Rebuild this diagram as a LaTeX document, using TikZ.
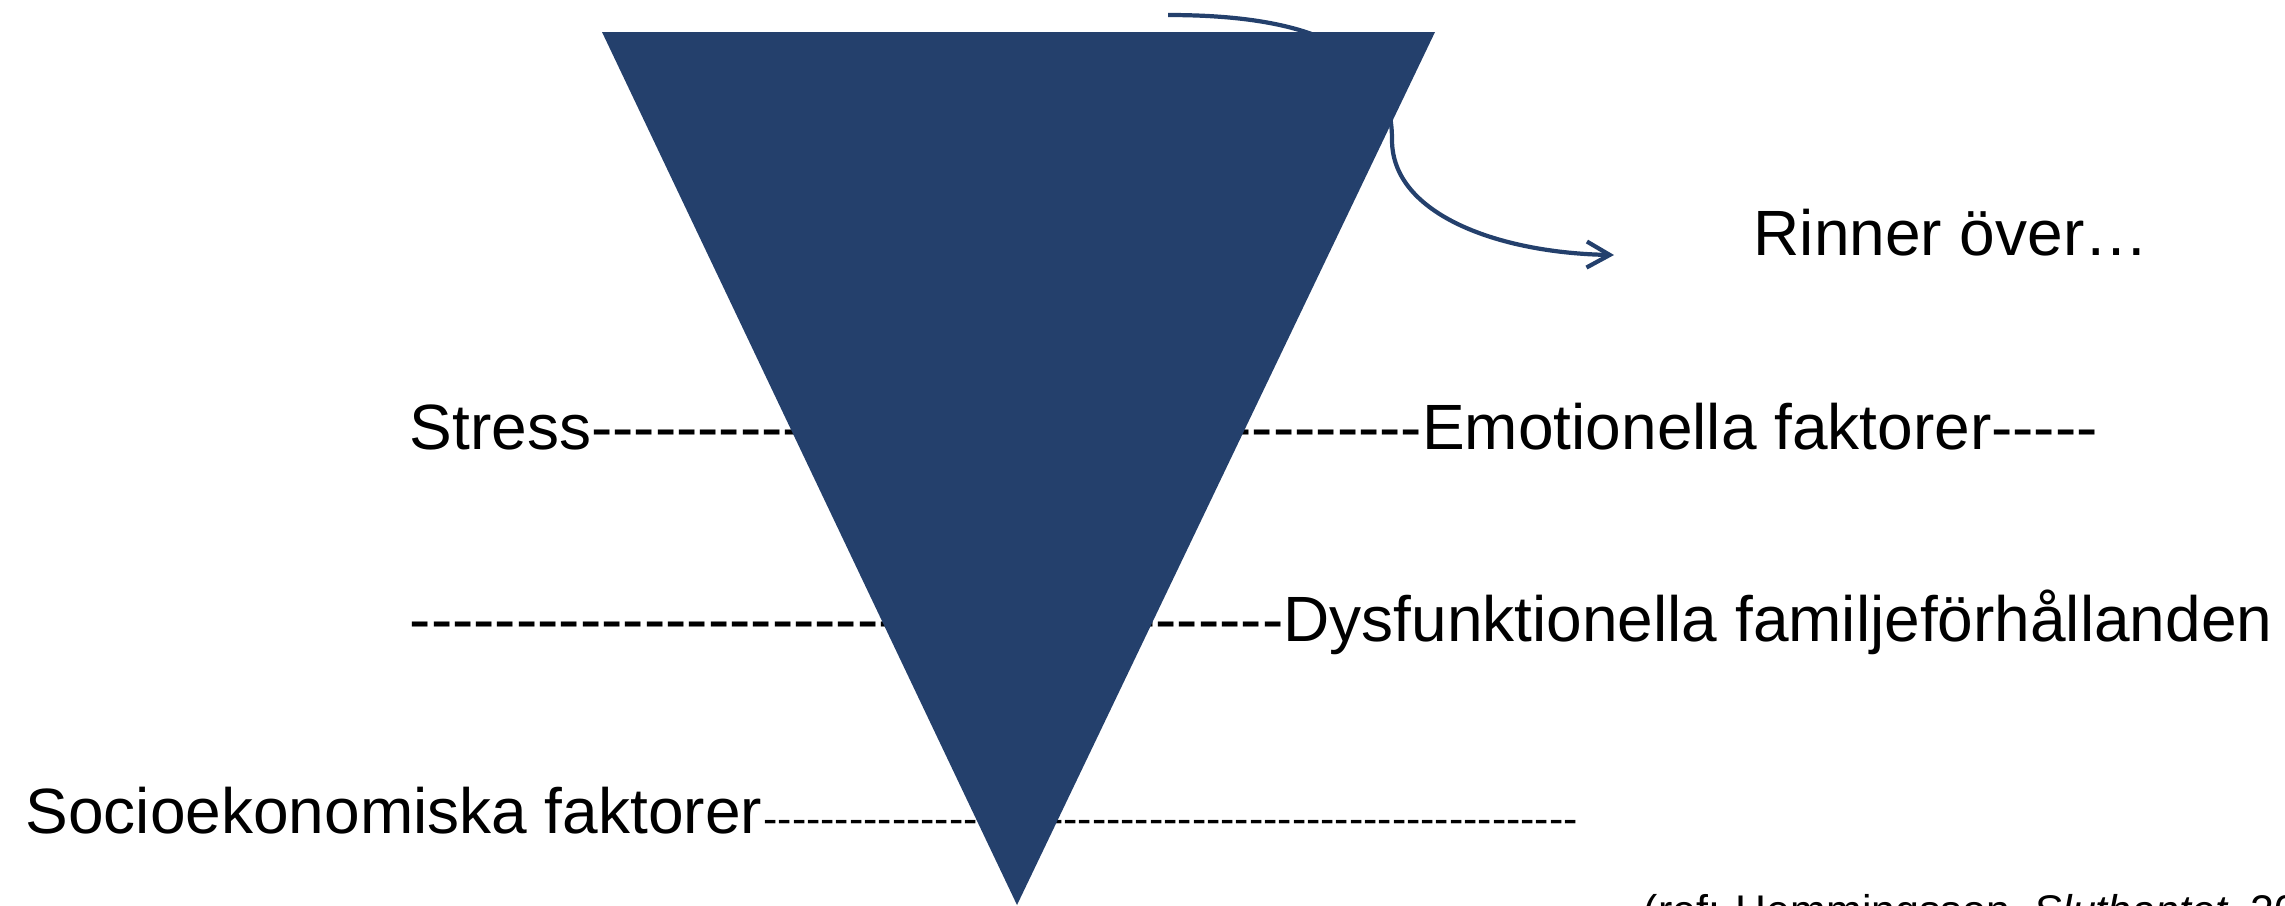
\documentclass[tikz,border=0pt]{standalone}
\usepackage{fontspec}
\setmainfont{Liberation Sans}[Ligatures=TeXOff]
\usetikzlibrary{arrows.meta,positioning}
\definecolor{FunnelNavy}{HTML}{24406C}

\newcommand{\dashrun}[1]{\foreach \k in {1,...,#1}{-}}

\begin{document}
\begin{tikzpicture}[
    x=0.01cm, y=-0.01cm,
    lbl/.style={inner sep=0pt, anchor=base west, font=\fontsize{18.2pt}{22pt}\selectfont},
    smalllbl/.style={inner sep=0pt, anchor=base west, font=\fontsize{12.2pt}{14pt}\selectfont},
    funnel/.style={fill=FunnelNavy},
    arrow/.style={-{Straight Barb[length=2.3mm, width=2.6mm]}, line width=1.2pt, color=FunnelNavy}
  ]
    \useasboundingbox (0,0) rectangle (2285,905);
    \clip (0,0) rectangle (2285,905);

    % lines behind the funnel
    \node[lbl] (stress) at (409,449) {Stress\dashrun{39}Emotionella faktorer\dashrun{5}};
    \node[lbl] (family) at (409,641) {\dashrun{41}Dysfunktionella familjeförhållanden};
    \node[lbl] (socio) at (25,833) {Socioekonomiska faktorer};
    \node[smalllbl] (sociodash) at (socio.base east) {\dashrun{57}};

    % overflow arrow
    \coordinate (spill) at (1168,15);
    \coordinate (spillend) at (1614,255);
    \draw[arrow] (spill) .. controls (1330,15) and (1392,60) .. (1392,140)
      .. controls (1392,215) and (1500,253) .. (spillend);

    % funnel
    \fill[funnel] (602,32) -- (1435,32) -- (1017,905) -- cycle;

    \node[lbl] (overflow) at (1753,255) {Rinner över…};
    \node[smalllbl] (ref) at (1643,925) {(ref: Hemmingsson, \textit{Sluthantet}, 20};
  \end{tikzpicture}
\end{document}
